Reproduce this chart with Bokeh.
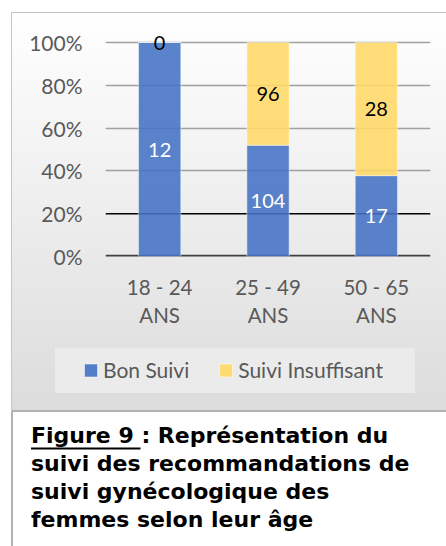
from bokeh.plotting import figure
from bokeh.models import (FactorRange, Range1d, FixedTicker, NumeralTickFormatter,
                          Span, BoxAnnotation, Label, LabelSet, ColumnDataSource,
                          Legend, LegendItem)
from bokeh.embed import file_html
from bokeh.resources import INLINE
from bokeh.core.properties import value

# ---------------- data ----------------
categories = ["18 - 24\nANS", "25 - 49\nANS", "50 - 65\nANS"]
bon_suivi = [12, 104, 17]
suivi_insuffisant = [0, 96, 28]
series_names = ["Bon Suivi", "Suivi Insuffisant"]
y_ticks = [0, 0.2, 0.4, 0.6, 0.8, 1.0]
caption_lines = ["Figure 9 : Représentation du",
                 "suivi des recommandations de",
                 "suivi gynécologique des",
                 "femmes selon leur âge"]

totals = [b + i for b, i in zip(bon_suivi, suivi_insuffisant)]
bon_frac = [b / t for b, t in zip(bon_suivi, totals)]
ins_frac = [i / t for i, t in zip(suivi_insuffisant, totals)]
bon_mid = [f / 2 for f in bon_frac]
ins_mid = [b + f / 2 for b, f in zip(bon_frac, ins_frac)]

BLUE = "#4472C4"
YELLOW = "#FFD966"
FONT = "Lato"
TXT = "#595959"
BORDER = "#c4c4c4"

# ---------------- chart (top part of the panel) ----------------
H1 = 340
chart_bg = ", ".join([
    f"linear-gradient({BORDER},{BORDER}) 11px 12px / 100% 1px no-repeat",
    f"linear-gradient({BORDER},{BORDER}) 11px 12px / 1px {H1 - 12}px no-repeat",
    f"linear-gradient(to bottom, #ffffff, #e2e2e2) 12px 13px / 100% {H1 - 13}px no-repeat",
    "#ffffff",
])

top_pad = 14 / 214
p = figure(width=446, height=H1,
           x_range=FactorRange(factors=categories),
           y_range=Range1d(0, 1.0 + top_pad), output_backend="svg",
           toolbar_location=None,
           min_border_left=105, min_border_right=16, min_border_top=28,
           min_border_bottom=H1 - 28 - 228)
p.styles = {"background": chart_bg}
p.outline_line_color = None
p.background_fill_alpha = 0.0
p.border_fill_alpha = 0.0

# grid
p.xgrid.grid_line_color = None
p.ygrid.ticker = FixedTicker(ticks=[0.4, 0.6, 0.8, 1.0])
p.ygrid.grid_line_color = "#A0A0A0"
p.ygrid.grid_line_width = 1.5
p.add_layout(Span(location=0.2, dimension="width", line_color="black",
                  line_width=1.5, level="underlay"))
p.add_layout(Span(location=0.0, dimension="width", line_color="#404040",
                  line_width=3.5, level="underlay"))

# bars
source = ColumnDataSource(dict(cat=categories, bon=bon_frac, ins=ins_frac,
                               bon_mid=bon_mid, ins_mid=ins_mid,
                               bon_txt=[str(v) for v in bon_suivi],
                               ins_txt=[str(v) for v in suivi_insuffisant]))
rs = p.vbar_stack(["bon", "ins"], x="cat", width=0.39, source=source,
                  fill_color=[BLUE, YELLOW], fill_alpha=0.88,
                  line_color="white", line_alpha=0.45, line_width=1)

# data labels
p.add_layout(LabelSet(x="cat", y="bon_mid", text="bon_txt", source=source,
                      text_align="center", text_baseline="middle",
                      text_color="white", text_font=value(FONT),
                      text_font_size="20px"))
p.add_layout(LabelSet(x="cat", y="ins_mid", text="ins_txt", source=source,
                      text_align="center", text_baseline="middle",
                      text_color="black", text_font=value(FONT),
                      text_font_size="20px"))

# axes
yax = p.yaxis[0]
yax.ticker = FixedTicker(ticks=y_ticks)
yax.formatter = NumeralTickFormatter(format="0%")
yax.axis_line_color = None
yax.major_tick_line_color = None
yax.minor_tick_line_color = None
yax.major_tick_out = 0
yax.major_tick_in = 0
yax.major_label_standoff = 23
yax.major_label_text_font = FONT
yax.major_label_text_font_size = "21px"
yax.major_label_text_color = TXT

xax = p.xaxis[0]
xax.axis_line_color = None
xax.major_tick_line_color = None
xax.minor_tick_line_color = None
xax.major_tick_out = 0
xax.major_tick_in = 0
xax.major_label_standoff = 18
xax.major_label_text_font = FONT
xax.major_label_text_font_size = "20.5px"
xax.major_label_text_color = TXT
xax.major_label_text_line_height = 1.2

# ---------------- legend strip + caption ----------------
H2 = 546 - H1
strip = 410 - H1
lower_bg = ", ".join([
    f"linear-gradient({BORDER},{BORDER}) 11px 0px / 1px {strip}px no-repeat",
    f"linear-gradient(#ebebeb,#ebebeb) 55px {348 - H1}px / 360px 45px no-repeat",
    f"linear-gradient(to bottom, #e2e2e2, #dcdcdc) 12px 0px / 100% {strip}px no-repeat",
    "#ffffff",
])
c = figure(width=446, height=H2, x_range=Range1d(0, 446), y_range=Range1d(0, H2),
           output_backend="svg", toolbar_location=None,
           x_axis_location=None, y_axis_location=None,
           min_border=0, min_border_left=0, min_border_right=0,
           min_border_top=0, min_border_bottom=0)
c.styles = {"background": lower_bg}
c.outline_line_color = None
c.grid.visible = False
c.background_fill_alpha = 0.0
c.border_fill_alpha = 0.0

# legend (labels from Legend, colour keys as small boxes)
k1 = c.vbar(x=[], top=[], width=1, fill_color=BLUE, fill_alpha=0.88,
            line_color="white", line_alpha=0.45)
k2 = c.vbar(x=[], top=[], width=1, fill_color=YELLOW, fill_alpha=0.88,
            line_color="white", line_alpha=0.45)
legend = Legend(items=[LegendItem(label=series_names[0], renderers=[k1]),
                       LegendItem(label=series_names[1], renderers=[k2])],
                location=(84, 546 - 382), orientation="horizontal",
                glyph_width=13, glyph_height=13, label_standoff=6, spacing=30,
                padding=0, margin=0, border_line_color=None,
                background_fill_alpha=0.0,
                label_text_font=FONT, label_text_font_size="21px",
                label_text_color=TXT)
c.add_layout(legend)
for (x0, col) in [(84, BLUE), (219, YELLOW)]:
    c.add_layout(BoxAnnotation(left=x0, right=x0 + 13, top=546 - 363.5,
                               bottom=546 - 376.5,
                               left_units="screen", right_units="screen",
                               top_units="screen", bottom_units="screen",
                               fill_color=col, fill_alpha=0.9,
                               line_color="white", line_alpha=0.5, line_width=1))

# caption box
c.add_layout(BoxAnnotation(left=11.5, right=470, top=546 - 410.5, bottom=-20,
                           left_units="screen", right_units="screen",
                           top_units="screen", bottom_units="screen",
                           fill_color=None, line_color="black", line_width=2))

baselines = [443.5, 471, 499, 527]
shift = 8.5
for line, yb in zip(caption_lines, baselines):
    c.add_layout(Label(x=30.5, y=546 - yb + shift, x_units="screen", y_units="screen",
                       text=line, text_font="DejaVu Sans", text_font_style="bold",
                       text_font_size="22px", text_color="black",
                       text_baseline="alphabetic", text_align="left"))
# underline of "Figure 9 "
c.add_layout(BoxAnnotation(left=30.5, right=140, top=546 - 447, bottom=546 - 449,
                           left_units="screen", right_units="screen",
                           top_units="screen", bottom_units="screen",
                           fill_color="black", fill_alpha=1.0, line_color=None))

open("out.html", "w").write(file_html([p, c], INLINE))
